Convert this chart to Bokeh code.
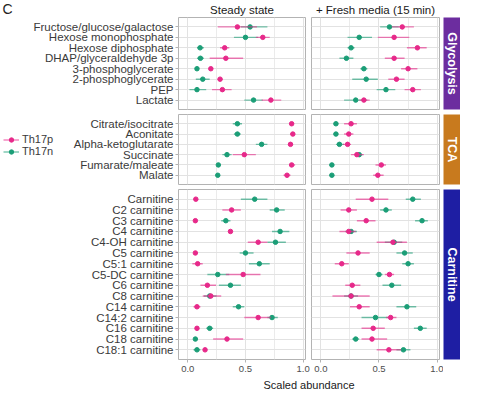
from bokeh.plotting import figure
from bokeh.layouts import column, row
from bokeh.models import (FactorRange, Range1d, FixedTicker, Label, Legend, LegendItem,
                          ColumnDataSource, NumeralTickFormatter)
from bokeh.embed import file_html
from bokeh.resources import INLINE

# ---------------- data ----------------
conditions = ["Steady state", "+ Fresh media (15 min)"]
groups = ["Th17p", "Th17n"]
pathways = ["Glycolysis", "TCA", "Carnitine"]

gly = ["Fructose/glucose/galactose", "Hexose monophosphate", "Hexose diphosphate",
       "DHAP/glyceraldehyde 3p", "3-phosphoglycerate", "2-phosphoglycerate", "PEP", "Lactate"]
tca = ["Citrate/isocitrate", "Aconitate", "Alpha-ketoglutarate", "Succinate",
       "Fumarate/maleate", "Malate"]
car = ["Carnitine", "C2 carnitine", "C3 carnitine", "C4 carnitine", "C4-OH carnitine",
       "C5 carnitine", "C5:1 carnitine", "C5-DC carnitine", "C6 carnitine", "C8 carnitine",
       "C14 carnitine", "C14:2 carnitine", "C16 carnitine", "C18 carnitine", "C18:1 carnitine"]

# Steady state, Th17p
ss_p_gly_mean = [0.43, 0.65, 0.32, 0.33, 0.20, 0.28, 0.30, 0.72]
ss_p_gly_lo   = [0.26, 0.59, 0.28, 0.19, 0.18, 0.26, 0.21, 0.64]
ss_p_gly_hi   = [0.60, 0.71, 0.36, 0.48, 0.22, 0.30, 0.38, 0.81]
ss_p_tca_mean = [0.90, 0.91, 0.89, 0.49, 0.90, 0.86]
ss_p_tca_lo   = [0.88, 0.89, 0.87, 0.39, 0.88, 0.83]
ss_p_tca_hi   = [0.92, 0.93, 0.91, 0.59, 0.93, 0.89]
ss_p_car_mean = [0.07, 0.38, 0.066, 0.37, 0.61, 0.066, 0.086, 0.48, 0.17, 0.20, 0.08, 0.61, 0.08, 0.34, 0.15]
ss_p_car_lo   = [0.06, 0.30, 0.055, 0.355, 0.52, 0.055, 0.04, 0.33, 0.11, 0.13, 0.05, 0.49, 0.065, 0.22, 0.135]
ss_p_car_hi   = [0.08, 0.46, 0.077, 0.385, 0.69, 0.077, 0.13, 0.63, 0.245, 0.29, 0.11, 0.72, 0.095, 0.48, 0.165]

# Steady state, Th17n
ss_n_gly_mean = [0.54, 0.50, 0.107, 0.11, 0.08, 0.13, 0.08, 0.57]
ss_n_gly_lo   = [0.46, 0.40, 0.08, 0.08, 0.07, 0.07, 0.015, 0.49]
ss_n_gly_hi   = [0.69, 0.61, 0.14, 0.14, 0.09, 0.19, 0.16, 0.65]
ss_n_tca_mean = [0.43, 0.43, 0.64, 0.34, 0.265, 0.26]
ss_n_tca_lo   = [0.39, 0.40, 0.59, 0.30, 0.25, 0.245]
ss_n_tca_hi   = [0.47, 0.46, 0.69, 0.38, 0.28, 0.275]
ss_n_car_mean = [0.58, 0.77, 0.33, 0.80, 0.76, 0.50, 0.62, 0.26, 0.37, 0.19, 0.44, 0.73, 0.19, 0.066, 0.08]
ss_n_car_lo   = [0.46, 0.71, 0.29, 0.73, 0.69, 0.45, 0.53, 0.17, 0.27, 0.14, 0.39, 0.69, 0.16, 0.055, 0.05]
ss_n_car_hi   = [0.69, 0.84, 0.37, 0.88, 0.85, 0.57, 0.71, 0.36, 0.46, 0.25, 0.49, 0.78, 0.22, 0.077, 0.11]

# Fresh media, Th17p
fm_p_gly_mean = [0.70, 0.63, 0.83, 0.63, 0.75, 0.65, 0.79, 0.37]
fm_p_gly_lo   = [0.61, 0.49, 0.74, 0.55, 0.69, 0.58, 0.72, 0.33]
fm_p_gly_hi   = [0.80, 0.76, 0.91, 0.72, 0.83, 0.72, 0.86, 0.42]
fm_p_tca_mean = [0.26, 0.24, 0.23, 0.31, 0.52, 0.49]
fm_p_tca_lo   = [0.20, 0.20, 0.19, 0.26, 0.47, 0.45]
fm_p_tca_hi   = [0.31, 0.28, 0.26, 0.37, 0.56, 0.54]
fm_p_car_mean = [0.44, 0.24, 0.39, 0.24, 0.62, 0.32, 0.18, 0.59, 0.27, 0.26, 0.33, 0.60, 0.45, 0.44, 0.585]
fm_p_car_lo   = [0.30, 0.17, 0.31, 0.16, 0.48, 0.22, 0.12, 0.55, 0.21, 0.10, 0.25, 0.56, 0.35, 0.35, 0.48]
fm_p_car_hi   = [0.58, 0.31, 0.47, 0.30, 0.74, 0.42, 0.24, 0.63, 0.34, 0.42, 0.42, 0.65, 0.55, 0.57, 0.69]

# Fresh media, Th17n
fm_n_gly_mean = [0.59, 0.33, 0.26, 0.22, 0.37, 0.39, 0.56, 0.30]
fm_n_gly_lo   = [0.51, 0.23, 0.23, 0.16, 0.34, 0.27, 0.48, 0.20]
fm_n_gly_hi   = [0.67, 0.44, 0.29, 0.28, 0.40, 0.49, 0.64, 0.40]
fm_n_tca_mean = [0.13, 0.13, 0.16, 0.33, 0.095, 0.095]
fm_n_tca_lo   = [0.11, 0.11, 0.13, 0.30, 0.075, 0.075]
fm_n_tca_hi   = [0.15, 0.15, 0.20, 0.36, 0.115, 0.115]
fm_n_car_mean = [0.79, 0.56, 0.87, 0.26, 0.63, 0.72, 0.75, 0.50, 0.61, 0.26, 0.74, 0.47, 0.855, 0.30, 0.71]
fm_n_car_lo   = [0.73, 0.51, 0.81, 0.21, 0.55, 0.65, 0.70, 0.47, 0.53, 0.20, 0.65, 0.35, 0.80, 0.27, 0.65]
fm_n_car_hi   = [0.86, 0.61, 0.92, 0.31, 0.70, 0.79, 0.80, 0.53, 0.69, 0.32, 0.82, 0.58, 0.91, 0.33, 0.77]

x_ticks = [0.0, 0.5, 1.0]
x_minor = [0.25, 0.75]

# ---------------- style ----------------
PINK = "#E7298A"
GREEN = "#1B9E77"
STRIP_COLORS = ["#6C2D9F", "#C87A1E", "#1E1EA3"]
FONT = "Liberation Sans"
GRID = "#E2E2E2"
BORDER = "#B3B3B3"
PT_SIZE = 4.5

cats_all = [gly, tca, car]
data = {
    (0, 0): [(ss_p_gly_mean, ss_p_gly_lo, ss_p_gly_hi), (ss_n_gly_mean, ss_n_gly_lo, ss_n_gly_hi)],
    (0, 1): [(fm_p_gly_mean, fm_p_gly_lo, fm_p_gly_hi), (fm_n_gly_mean, fm_n_gly_lo, fm_n_gly_hi)],
    (1, 0): [(ss_p_tca_mean, ss_p_tca_lo, ss_p_tca_hi), (ss_n_tca_mean, ss_n_tca_lo, ss_n_tca_hi)],
    (1, 1): [(fm_p_tca_mean, fm_p_tca_lo, fm_p_tca_hi), (fm_n_tca_mean, fm_n_tca_lo, fm_n_tca_hi)],
    (2, 0): [(ss_p_car_mean, ss_p_car_lo, ss_p_car_hi), (ss_n_car_mean, ss_n_car_lo, ss_n_car_hi)],
    (2, 1): [(fm_p_car_mean, fm_p_car_lo, fm_p_car_hi), (fm_n_car_mean, fm_n_car_lo, fm_n_car_hi)],
}
colors = [PINK, GREEN]

HEADER_H = 16
FOOTER_H = 12
frame_h = [92, 70, 170]
top_b = [1, 1, 1]
bot_b = [4, 4, 19]
LEFT_B, LEFT_FW, LEFT_RB = 178, 127, 5
RIGHT_LB, RIGHT_FW, RIGHT_RB = 1, 128, 4
STRIP_W = 17
LEG_W = 62
total_w = LEFT_B + LEFT_FW + LEFT_RB + RIGHT_LB + RIGHT_FW + RIGHT_RB + STRIP_W


def text_strip(height, w=total_w):
    f = figure(width=w, height=height, x_range=Range1d(0, w), y_range=Range1d(0, height),
               x_axis_location=None, y_axis_location=None, output_backend="svg",
               toolbar_location=None, min_border_left=0, min_border_right=0,
               min_border_top=0, min_border_bottom=0)
    f.grid.visible = False
    f.outline_line_color = None
    return f


# header with panel label and column titles
header = text_strip(HEADER_H)
header.add_layout(Label(x=2, y=HEADER_H / 2, text="C", text_align="left", text_baseline="middle",
                        text_font=FONT, text_font_size="14px", text_color="#222222"))
col_centers = [LEFT_B + LEFT_FW / 2,
               LEFT_B + LEFT_FW + LEFT_RB + RIGHT_LB + RIGHT_FW / 2]
for c in range(2):
    header.add_layout(Label(x=col_centers[c], y=HEADER_H / 2 - 1, text=conditions[c],
                            text_align="center", text_baseline="middle",
                            text_font=FONT, text_font_size="11.5px", text_color="#1A1A1A"))

rows = [header]
for r in range(3):
    cats = cats_all[r]
    yr = FactorRange(factors=list(reversed(cats)), range_padding=0.4,
                     range_padding_units="absolute")
    h = top_b[r] + frame_h[r] + bot_b[r]
    figs = []
    sources = {}
    for c in range(2):
        is_left = c == 0
        lb = LEFT_B if is_left else RIGHT_LB
        w = (LEFT_B + LEFT_FW + LEFT_RB) if is_left else (RIGHT_LB + RIGHT_FW + RIGHT_RB)
        if is_left and r == 1:
            lb -= LEG_W
            w -= LEG_W
        p = figure(width=w, height=h,
                   x_range=Range1d(-0.08, 1.02), y_range=yr,
                   x_axis_location="below" if r == 2 else None,
                   y_axis_location="left" if is_left else None,
                   output_backend="svg", toolbar_location=None,
                   min_border_left=lb,
                   min_border_right=LEFT_RB if is_left else RIGHT_RB,
                   min_border_top=top_b[r], min_border_bottom=bot_b[r])
        p.outline_line_color = BORDER
        p.outline_line_width = 1
        p.background_fill_color = "white"
        p.xgrid.ticker = FixedTicker(ticks=x_ticks, minor_ticks=x_minor)
        p.xgrid.grid_line_color = GRID
        p.xgrid.minor_grid_line_color = "#EBEBEB"
        p.ygrid.grid_line_color = GRID
        if r == 2:
            ax = p.xaxis[0]
            ax.ticker = FixedTicker(ticks=x_ticks, minor_ticks=x_minor)
            ax.formatter = NumeralTickFormatter(format="0.0")
            ax.axis_line_color = None
            ax.major_tick_line_color = BORDER
            ax.major_tick_out = 3
            ax.major_tick_in = 0
            ax.minor_tick_line_color = None
            ax.major_label_standoff = 2
            ax.major_label_text_font = FONT
            ax.major_label_text_font_size = "9.5px"
            ax.major_label_text_color = "#4D4D4D"
        if is_left:
            ay = p.yaxis[0]
            ay.axis_line_color = None
            ay.major_tick_line_color = BORDER
            ay.major_tick_out = 3
            ay.major_tick_in = 0
            ay.major_label_standoff = 2
            ay.major_label_text_font = FONT
            ay.major_label_text_font_size = "11.5px"
            ay.major_label_text_color = "#3A3A3A"

        for g in [1, 0]:
            mean, lo, hi = data[(r, c)][g]
            src = ColumnDataSource(dict(cat=cats, mean=mean, lo=lo, hi=hi))
            sources[(c, g)] = src
            p.segment(x0="lo", y0="cat", x1="hi", y1="cat", source=src,
                      line_color=colors[g], line_width=1.4, line_alpha=0.6)
            p.scatter(x="mean", y="cat", source=src, size=PT_SIZE,
                      fill_color=colors[g], line_color=colors[g])
        figs.append(p)

    if r == 1:
        # legend panel to the left of the TCA row (keys for the two cell groups)
        lf = figure(width=LEG_W, height=h, x_range=Range1d(-0.08, 1.02), y_range=yr,
                    x_axis_location=None, y_axis_location=None, output_backend="svg",
                    toolbar_location=None, min_border_left=0, min_border_right=0,
                    min_border_top=0, min_border_bottom=0)
        lf.grid.visible = False
        lf.outline_line_color = None
        items = []
        for g in [0, 1]:
            src = sources[(0, g)]
            seg = lf.segment(x0="lo", y0="cat", x1="hi", y1="cat", source=src,
                             line_color=colors[g], line_width=1.4, line_alpha=0.6, visible=False)
            sc = lf.scatter(x="mean", y="cat", source=src, size=PT_SIZE,
                            fill_color=colors[g], line_color=colors[g], visible=False)
            items.append(LegendItem(label=groups[g], renderers=[seg, sc]))
        leg = Legend(items=items, location=(3, h - 48), orientation="vertical",
                     glyph_width=16, glyph_height=11, label_height=11, spacing=0,
                     padding=0, margin=0, label_standoff=3,
                     label_text_font=FONT, label_text_font_size="11px",
                     label_text_color="#3A3A3A", inactive_fill_alpha=0,
                     border_line_color=None, background_fill_alpha=0)
        lf.add_layout(leg)
        figs.insert(0, lf)

    s = figure(width=STRIP_W, height=h, x_range=Range1d(0, 1), y_range=Range1d(0, 1),
               x_axis_location=None, y_axis_location=None,
               output_backend="svg", toolbar_location=None,
               min_border_left=0, min_border_right=0,
               min_border_top=top_b[r], min_border_bottom=bot_b[r])
    s.grid.visible = False
    s.outline_line_color = None
    s.background_fill_color = STRIP_COLORS[r]
    s.add_layout(Label(x=0.5, y=0.5, text=pathways[r], angle=-90, angle_units="deg",
                       text_align="center", text_baseline="middle", text_color="white",
                       text_font=FONT, text_font_size="12.5px", text_font_style="bold"))
    figs.append(s)
    rows.append(row(*figs, spacing=0))

footer = text_strip(FOOTER_H)
footer.add_layout(Label(x=(LEFT_B + LEFT_B + LEFT_FW + LEFT_RB + RIGHT_LB + RIGHT_FW) / 2,
                        y=FOOTER_H / 2, text="Scaled abundance", text_align="center",
                        text_baseline="middle", text_font=FONT, text_font_size="11px",
                        text_color="#1A1A1A"))
rows.append(footer)

layout = column(*rows, spacing=0)
open("out.html", "w").write(file_html(layout, INLINE))
